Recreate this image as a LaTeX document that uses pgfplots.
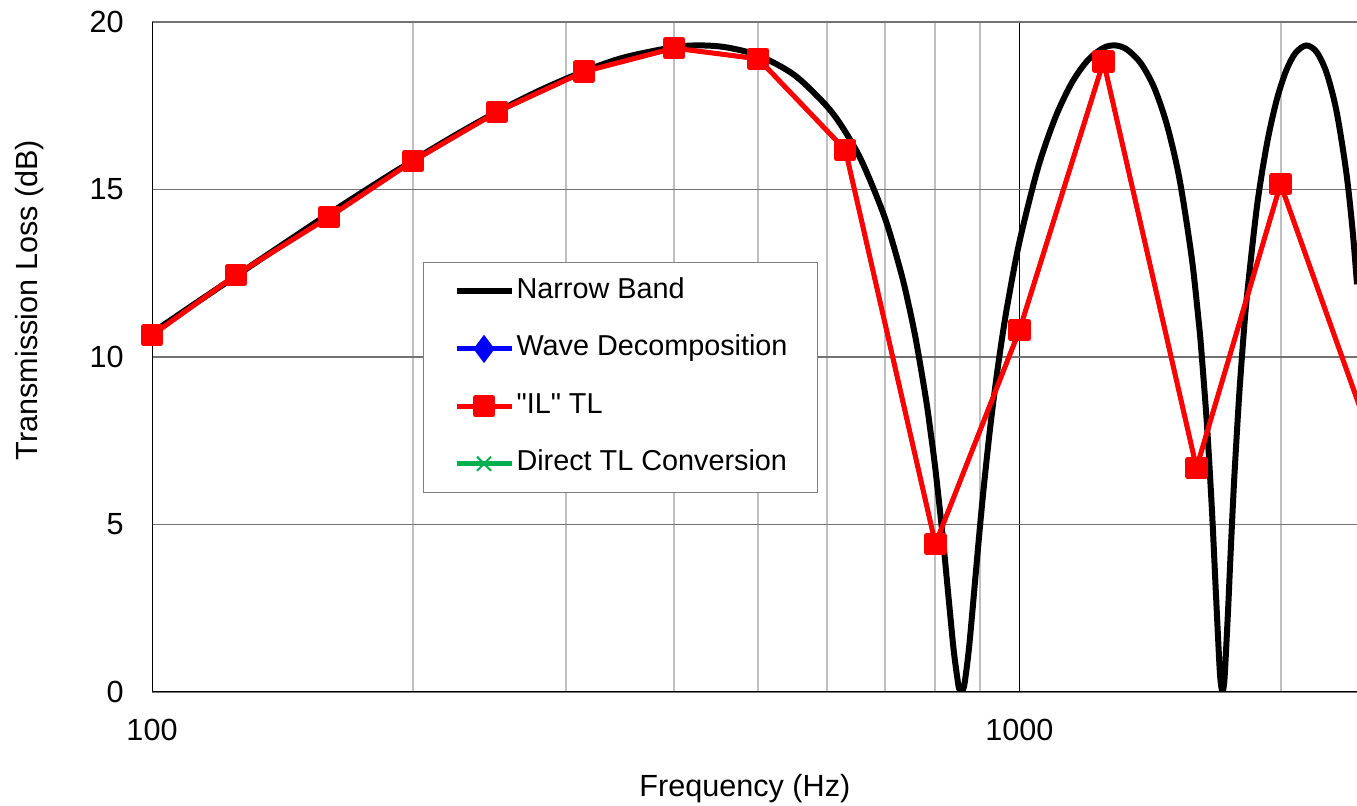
\documentclass[border=0pt]{standalone}
\usepackage{fontspec}
\setmainfont{Liberation Sans}
\usepackage{pgfplots}
\usepackage{pgfplotstable}
\pgfplotsset{compat=1.18}

\definecolor{xlgreen}{RGB}{0,176,80}

% narrow band TL
\pgfplotstableread{
f    tl
100  10.72
110  11.45
120  12.11
130  12.72
140  13.28
150  13.80
160  14.28
180  15.13
200  15.87
225  16.66
250  17.32
280  17.96
315  18.53
350  18.94
400  19.25
430  19.30
460  19.24
500  19.00
550  18.42
600  17.48
630  16.72
660  15.77
700  14.14
730  12.54
745  11.58
760  10.49
780  8.77
790  7.76
800  6.65
815  4.74
820  4.04
830  2.60
840  1.23
850  0.23
853  0.08
857  0.00
861  0.08
865  0.30
875  1.35
890  3.47
900  4.87
910  6.16
925  7.87
940  9.32
955  10.57
970  11.65
1000 13.44
1050 15.63
1100 17.15
1150 18.20
1200 18.87
1250 19.23
1290 19.30
1330 19.18
1380 18.77
1430 18.04
1480 16.91
1530 15.29
1580 12.95
1610 11.02
1620 10.25
1640 8.47
1650 7.44
1660 6.29
1670 5.01
1685 2.89
1700 0.87
1706 0.30
1714 0.00
1720 0.17
1725 0.56
1740 2.46
1750 3.90
1760 5.27
1770 6.53
1790 8.67
1810 10.41
1830 11.85
1880 14.55
1930 16.39
1980 17.68
2030 18.55
2080 19.07
2140 19.30
2200 19.11
2260 18.48
2320 17.34
2380 15.55
2420 13.85
2450 12.17
}\narrowband

% third-octave band results
\pgfplotstableread{
f    tl
100  10.65
125  12.45
160  14.18
200  15.85
250  17.32
315  18.52
400  19.22
500  18.90
630  16.18
800  4.42
1000 10.80
1250 18.82
1600 6.69
2000 15.16
2500 8.10
}\bands

\begin{document}
\begin{tikzpicture}
\begin{axis}[
  scale only axis, width=602.5pt, height=335pt,
  xmode=log, xmin=100, xmax=2450, ymin=0, ymax=20,
  axis lines*=left,
  axis line style={black, line width=0.5pt},
  xtick={100,1000}, xticklabels={100,1000},
  minor xtick={200,300,400,500,600,700,800,900,2000},
  ytick={0,5,10,15,20},
  major tick length=0pt, minor tick length=0pt,
  xmajorgrids, xminorgrids, ymajorgrids,
  major x grid style={black, line width=0.5pt},
  minor x grid style={black!25, line width=1pt},
  major y grid style={black!55, line width=0.75pt},
  /pgf/number format/assume math mode=true,
  tick label style={font=\fontsize{15.3}{18}\selectfont},
  xticklabel style={anchor=center, inner sep=0pt, yshift=-19pt},
  yticklabel style={anchor=east, inner sep=0pt, xshift=-14pt},
  label style={font=\fontsize{15.3}{18}\selectfont},
  xlabel={Frequency (Hz)},
  ylabel={Transmission Loss (dB)},
  xlabel style={at={(axis description cs:0.492,-0.1448)}, anchor=center},
  ylabel style={at={(axis description cs:-0.102,0.585)}, anchor=center},
  legend style={at={(axis description cs:0.2249,0.6418)}, anchor=north west,
    draw=black!50, line width=0.5pt, fill=white,
    font=\fontsize{14.4}{17}\selectfont,
    inner xsep=15pt, inner ysep=8pt, row sep=15.7pt, column sep=1pt,
    nodes={inner sep=0pt, text height=10pt, text depth=3pt}},
  legend cell align=left,
  legend image code/.code={\draw[mark repeat=2,mark phase=2,#1]
    plot coordinates {(0pt,0pt) (13.75pt,0pt) (27.5pt,0pt)};},
]
\coordinate (sw) at (rel axis cs:0,0);
\coordinate (ne) at (rel axis cs:1,1);

\addplot[black, line width=3pt, line join=round, no marks, smooth, tension=0.5]
  table[x=f, y=tl] {\narrowband};
\addlegendentry{Narrow Band}

% these two series lie under the red one
\addplot[blue, line width=2pt, mark=diamond*, mark size=3pt, forget plot] table[x=f, y=tl] {\bands};
\addplot[xlgreen, line width=2pt, mark=x, mark size=3pt, mark options={line width=0.8pt}, forget plot] table[x=f, y=tl] {\bands};

\addlegendimage{blue, line width=2.5pt, mark=diamond*, mark size=5pt}
\addlegendentry{Wave Decomposition}

\addplot[red, line width=2.5pt, line join=round, mark=square*, mark size=4.3pt,
  mark options={solid, draw=none, fill=red}] table[x=f, y=tl] {\bands};
\addlegendentry{\textquotedbl IL\textquotedbl{} TL}

\addlegendimage{xlgreen, line width=2.5pt, mark=x, mark size=5pt, mark options={line width=1pt}}
\addlegendentry{Direct TL Conversion}
\end{axis}
\pgfresetboundingbox
\path ([shift={(-76pt,-57pt)}]sw) rectangle ([shift={(0pt,11pt)}]ne);
\end{tikzpicture}
\end{document}
